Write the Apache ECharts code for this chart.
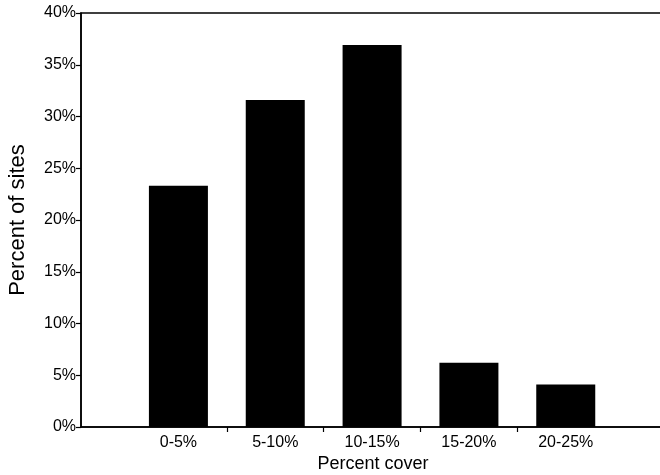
<!DOCTYPE html>
<html>
<head>
<meta charset="utf-8">
<script src="https://cdn.jsdelivr.net/npm/echarts@6/dist/echarts.min.js"></script>
<style>
  html, body { margin: 0; padding: 0; background: #fff; }
  #chart { width: 660px; height: 475px; }
</style>
</head>
<body>
<div id="chart"></div>
<script>
  // data
  var categories = ['0-5%', '5-10%', '10-15%', '15-20%', '20-25%', ''];
  var siteShare = [23.3, 31.6, 36.9, 6.2, 4.1];
  var yTicks = { min: 0, max: 40, step: 5 };

  var font = 'Liberation Sans, Arial, Helvetica, sans-serif';
  var chart = echarts.init(document.getElementById('chart'));
  chart.setOption({
    animation: false,
    backgroundColor: '#fff',
    grid: [
      // frame: y axis, bottom line, top border
      { left: 81, right: -5, top: 13, bottom: 48, outerBoundsMode: 'none',
        show: true, borderColor: '#000', borderWidth: 1.5, backgroundColor: 'transparent' },
      // bars
      { left: 130, right: -51, top: 13, bottom: 48, outerBoundsMode: 'none' }
    ],
    xAxis: [
      {
        gridIndex: 0, type: 'value', min: 0, max: 1,
        name: 'Percent cover', nameLocation: 'middle', nameGap: 28,
        nameTextStyle: { fontFamily: font, fontSize: 18, color: '#000' },
        axisLine: { show: true, lineStyle: { color: '#000', width: 1.5 } },
        axisTick: { show: false }, axisLabel: { show: false }, splitLine: { show: false }
      },
      {
        gridIndex: 1, type: 'category', data: categories,
        axisLine: { show: false },
        axisTick: { show: true, length: 5, lineStyle: { color: '#000', width: 1.2 },
          interval: function (i) { return i >= 1 && i <= 4; } },
        axisLabel: { interval: 0, margin: 8, fontFamily: font, fontSize: 16, color: '#000' },
        splitLine: { show: false }
      }
    ],
    yAxis: [
      {
        gridIndex: 0, type: 'value', min: yTicks.min, max: yTicks.max, interval: yTicks.step,
        name: 'Percent of sites', nameLocation: 'middle', nameGap: 52, nameRotate: 90,
        nameTextStyle: { fontFamily: font, fontSize: 22, color: '#000' },
        axisLine: { show: true, lineStyle: { color: '#000', width: 1.5 } },
        axisTick: { show: true, length: 5, lineStyle: { color: '#000', width: 1.2 } },
        axisLabel: { formatter: '{value}%', margin: 5, fontFamily: font, fontSize: 16, color: '#000' },
        splitLine: { show: false }
      },
      {
        gridIndex: 1, type: 'value', min: yTicks.min, max: yTicks.max, show: false
      }
    ],
    series: [
      {
        type: 'bar', xAxisIndex: 1, yAxisIndex: 1,
        data: siteShare, barWidth: 59,
        itemStyle: { color: '#000' }
      }
    ]
  });
</script>
</body>
</html>
